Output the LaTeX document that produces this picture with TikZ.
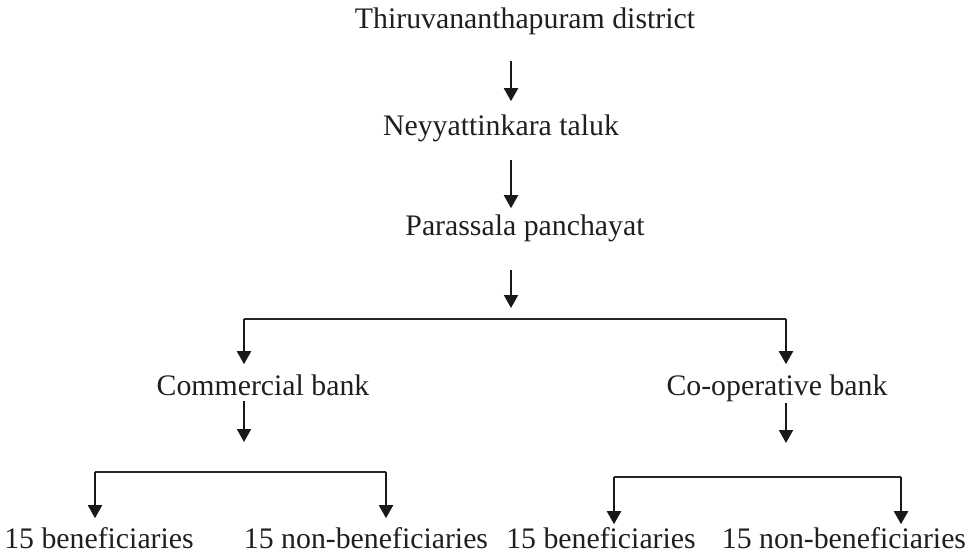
\documentclass[tikz,border=0pt]{standalone}
\usepackage{fontspec}
\setmainfont{Liberation Serif}
\usetikzlibrary{arrows.meta}
\tikzset{
  lvl/.style={anchor=base,inner sep=0pt,text height=0.68em,text depth=0.22em,
    text=black!88,font=\fontsize{14.9}{17}\selectfont},
  arr/.style={line width=1pt,black!90,-{Triangle[length=6.5pt,width=7pt]}},
  bar/.style={line width=0.7pt,black!85}
}

\begin{document}
\begin{tikzpicture}[x=0.5pt,y=-0.5pt]
  \useasboundingbox (0,0) rectangle (974,558);
  \node[lvl] (dist) at (525,28) {Thiruvananthapuram district};
  \node[lvl] (tal) at (501,135) {Neyyattinkara taluk};
  \node[lvl] (pan) at (525,235) {Parassala panchayat};
  \node[lvl] (cb) at (263,395) {Commercial bank};
  \node[lvl] (cob) at (777,395) {Co-operative bank};
  \foreach \n/\x/\t in {b1/99/15 beneficiaries,n1/366/15 non-beneficiaries,
      b2/601/15 beneficiaries,n2/844/15 non-beneficiaries}
    \node[lvl] (\n) at (\x,548) {\t};
  % branch points
  \coordinate (j0) at (511,319);
  \coordinate (j0l) at (244,319); \coordinate (j0r) at (786,319);
  \coordinate (j1) at (244,472);
  \coordinate (j1l) at (95,472);  \coordinate (j1r) at (386,472);
  \coordinate (j2) at (786,477);
  \coordinate (j2l) at (614,477); \coordinate (j2r) at (901,477);
  % district -> taluk -> panchayat
  \draw[arr,shorten <=14.2pt,shorten >=9.9pt] (j0 |- dist.south) -- (j0 |- tal.north);
  \draw[arr,shorten <=10.2pt,shorten >=6.4pt] (j0 |- tal.south) -- (j0 |- pan.north);
  \draw[arr,shorten <=15.2pt,shorten >=5.5pt] (j0 |- pan.south) -- (j0);
  % banks
  \draw[bar] (j0l) -- (j0r);
  \draw[arr,shorten >=8.4pt] (j0l) -- (j0l |- cb.north);
  \draw[arr,shorten >=8.4pt] (j0r) -- (j0r |- cob.north);
  \draw[arr,shorten <=0.7pt,shorten >=15pt] (j0l |- cb.south) -- (j1);
  \draw[arr,shorten <=1.7pt,shorten >=17pt] (j0r |- cob.south) -- (j2);
  % samples
  \draw[bar] (j1l) -- (j1r);
  \draw[arr,shorten >=7.9pt] (j1l) -- (j1l |- b1.north);
  \draw[arr,shorten >=7.9pt] (j1r) -- (j1r |- n1.north);
  \draw[bar] (j2l) -- (j2r);
  \draw[arr,shorten >=4.9pt] (j2l) -- (j2l |- b2.north);
  \draw[arr,shorten >=4.9pt] (j2r) -- (j2r |- n2.north);
\end{tikzpicture}
\end{document}
